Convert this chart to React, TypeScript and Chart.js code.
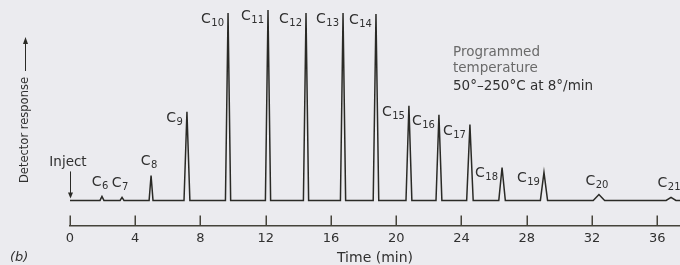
import React, { useEffect, useRef } from "react";
import { Chart, registerables } from "chart.js";

Chart.register(...registerables);

// ---------------- data ----------------
const carbonNumbers = [6, 7, 8, 9, 10, 11, 12, 13, 14, 15, 16, 17, 18, 19, 20, 21];
const retentionTimes = [1.96, 3.19, 4.97, 7.17, 9.69, 12.14, 14.47, 16.74, 18.76, 20.78, 22.62, 24.52, 26.49, 29.06, 32.43, 36.85];
const peakHeights = [2.1, 1.6, 13.1, 46.6, 98.4, 100, 98.4, 98.4, 97.9, 49.7, 45.0, 39.8, 17.3, 14.7, 3.1, 1.6];
const peakHalfWidths = [0.12, 0.12, 0.12, 0.18, 0.16, 0.16, 0.16, 0.16, 0.17, 0.18, 0.18, 0.2, 0.2, 0.22, 0.35, 0.3];
const timeTicks = [0, 4, 8, 12, 16, 20, 24, 28, 32, 36];
const timeMin = 0;
const timeMax = 37.4;
const responseMin = -13.1;
const responseMax = 103.1;

// ---------------- styles ----------------
const BG = "#ebebef";
const INK = "#2a2a26";
const AXIS = "#45433a";
const TEXT = "#303030";
const LIGHT_TEXT = "#6a6a6a";
const FONT = "'DejaVu Sans', 'Liberation Sans', sans-serif";
// label placement: true = centred above the peak, false = to the left of the apex
const labelAbove = [true, true, true, false, false, false, false, false, false, false, false, false, false, false, true, true];

function buildTrace() {
  const pts: { x: number; y: number }[] = [{ x: timeMin, y: 0 }];
  retentionTimes.forEach((t, i) => {
    pts.push({ x: t - peakHalfWidths[i], y: 0 });
    pts.push({ x: t, y: peakHeights[i] });
    pts.push({ x: t + peakHalfWidths[i], y: 0 });
  });
  pts.push({ x: timeMax, y: 0 });
  return pts;
}

const annotations = {
  id: "annotations",
  beforeDraw(chart: any) {
    const { ctx, width, height } = chart;
    ctx.save();
    ctx.fillStyle = BG;
    ctx.fillRect(0, 0, width, height);
    ctx.restore();
  },
  afterDraw(chart: any) {
    const { ctx, chartArea } = chart;
    const xs = chart.scales.x;
    const ys = chart.scales.y;
    ctx.save();

    // upward tick marks on the time axis
    ctx.strokeStyle = AXIS;
    ctx.lineWidth = 1.5;
    timeTicks.forEach((v) => {
      const px = Math.round(xs.getPixelForValue(v)) + 0.25;
      ctx.beginPath();
      ctx.moveTo(px, chartArea.bottom);
      ctx.lineTo(px, chartArea.bottom - 10);
      ctx.stroke();
    });

    // peak labels
    ctx.fillStyle = TEXT;
    ctx.textBaseline = "alphabetic";
    ctx.textAlign = "left";
    carbonNumbers.forEach((n, i) => {
      const px = xs.getPixelForValue(retentionTimes[i]);
      const py = ys.getPixelForValue(peakHeights[i]);
      ctx.font = `14px ${FONT}`;
      const cw = ctx.measureText("C").width;
      ctx.font = `10px ${FONT}`;
      const sw = ctx.measureText(String(n)).width;
      const total = cw + 0.5 + sw;
      let left: number, base: number;
      if (labelAbove[i]) {
        left = px - 2 - total / 2;
        base = py - 10;
      } else {
        left = px - 4 - total;
        base = py + 10;
      }
      ctx.font = `14px ${FONT}`;
      ctx.fillText("C", left, base);
      ctx.font = `10px ${FONT}`;
      ctx.fillText(String(n), left + cw + 0.5, base + 3);
    });

    // Inject marker
    const x0 = xs.getPixelForValue(0);
    const y0 = ys.getPixelForValue(0);
    ctx.font = `13.5px ${FONT}`;
    ctx.textAlign = "center";
    ctx.fillStyle = TEXT;
    ctx.fillText("Inject", x0 - 2, y0 - 34);
    ctx.strokeStyle = INK;
    ctx.lineWidth = 1;
    ctx.beginPath();
    ctx.moveTo(x0 + 0.5, y0 - 29);
    ctx.lineTo(x0 + 0.5, y0 - 4);
    ctx.stroke();
    ctx.fillStyle = INK;
    ctx.beginPath();
    ctx.moveTo(x0 + 0.5, y0 - 2);
    ctx.lineTo(x0 - 2, y0 - 8);
    ctx.lineTo(x0 + 3, y0 - 8);
    ctx.closePath();
    ctx.fill();

    // Detector response (rotated) with arrow
    ctx.save();
    const dx = 25;
    const dcy = 130;
    ctx.translate(dx, dcy);
    ctx.rotate(-Math.PI / 2);
    ctx.font = `11.5px ${FONT}`;
    ctx.fillStyle = TEXT;
    ctx.textAlign = "center";
    ctx.textBaseline = "middle";
    const dw = ctx.measureText("Detector response").width;
    ctx.fillText("Detector response", 0, 0);
    ctx.restore();
    const arrowStart = dcy - dw / 2 - 6;
    const arrowEnd = arrowStart - 33;
    ctx.strokeStyle = INK;
    ctx.lineWidth = 1;
    ctx.beginPath();
    ctx.moveTo(dx + 0.5, arrowStart);
    ctx.lineTo(dx + 0.5, arrowEnd + 4);
    ctx.stroke();
    ctx.fillStyle = INK;
    ctx.beginPath();
    ctx.moveTo(dx + 0.5, arrowEnd - 1);
    ctx.lineTo(dx - 2, arrowEnd + 6);
    ctx.lineTo(dx + 3, arrowEnd + 6);
    ctx.closePath();
    ctx.fill();

    // Programmed temperature note
    ctx.textAlign = "left";
    ctx.textBaseline = "alphabetic";
    ctx.font = `13.5px ${FONT}`;
    ctx.fillStyle = LIGHT_TEXT;
    ctx.fillText("Programmed", 453, 56);
    ctx.fillText("temperature", 453, 72);
    ctx.fillStyle = TEXT;
    ctx.fillText("50°\u2013250°C at 8°/min", 453, 90);

    // panel letter
    ctx.font = `italic 13px ${FONT}`;
    ctx.fillStyle = TEXT;
    ctx.fillText("(b)", 10, 261);

    ctx.restore();
  },
};

export default function App() {
  const canvasRef = useRef<HTMLCanvasElement | null>(null);

  useEffect(() => {
    if (!canvasRef.current) return;
    const chart = new Chart(canvasRef.current, {
      type: "line",
      data: {
        datasets: [
          {
            data: buildTrace(),
            borderColor: INK,
            borderWidth: 1.5,
            pointRadius: 0,
            tension: 0,
            fill: false,
          },
        ],
      },
      options: {
        animation: false,
        responsive: false,
        maintainAspectRatio: false,
        parsing: false as any,
        layout: { padding: { left: 70, right: 0, top: 4, bottom: 0 } },
        plugins: { legend: { display: false }, tooltip: { enabled: false } },
        scales: {
          x: {
            type: "linear",
            min: timeMin,
            max: timeMax,
            afterBuildTicks: (scale: any) => {
              scale.ticks = timeTicks.map((v) => ({ value: v }));
            },
            grid: { display: true, drawOnChartArea: false, drawTicks: false },
            border: { display: true, color: AXIS, width: 1.5 },
            ticks: {
              color: TEXT,
              font: { family: FONT, size: 13 },
              padding: 5,
              maxRotation: 0,
              autoSkip: false,
            },
            title: {
              display: true,
              text: "Time (min)",
              color: TEXT,
              font: { family: FONT, size: 14, lineHeight: 1 },
              padding: { top: 0, bottom: 0 },
            },
          },
          y: {
            type: "linear",
            display: false,
            min: responseMin,
            max: responseMax,
          },
        },
      },
      plugins: [annotations],
    });
    return () => chart.destroy();
  }, []);

  return (
    <div style={{ position: "fixed", left: 0, top: 0, width: 680, height: 265, background: BG }}>
      <canvas ref={canvasRef} width={680} height={265} style={{ display: "block", width: 680, height: 265 }} />
    </div>
  );
}
